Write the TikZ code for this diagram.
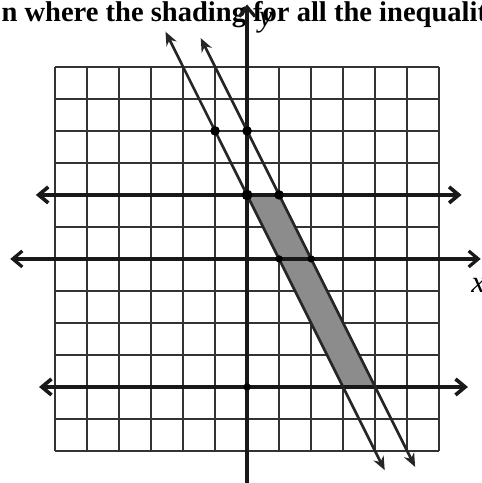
\documentclass[tikz,border=0pt]{standalone}
\usepackage{fontspec}
\setmainfont{Liberation Serif}
\usetikzlibrary{arrows.meta}
\tikzset{
  gridln/.style={line width=1.5pt, black!80},
  axisln/.style={{Straight Barb[length=2.4mm,width=4mm]}-{Straight Barb[length=2.4mm,width=4mm]}, line width=2.3pt, black!90},
  boundln/.style={{Straight Barb[length=2.4mm,width=4mm]}-{Straight Barb[length=2.4mm,width=4mm]}, line width=2.6pt, black!90},
  slantln/.style={{Stealth[length=3.4mm,width=2.8mm]}-{Stealth[length=3.4mm,width=2.8mm]}, line width=1.9pt, black!85},
  shadereg/.style={fill=black!45},
  qtext/.style={font=\fontsize{20.3}{24}\selectfont\bfseries, inner sep=0pt},
}
\newcommand{\ptdot}[2]{%
  \fill[black] #2 circle (#1);
}

\begin{document}
\begin{tikzpicture}[x=0.8cm, y=0.8cm]
  \useasboundingbox (-7.72,-7.0) rectangle (7.31,8.09);
  \clip (-7.72,-7.0) rectangle (7.31,8.09);
  % the question text, cut off at both sides
  \node[qtext, anchor=base west] (qline) at (-7.68,7.41) {n where the shading for all the inequalities};
  % grid
  \draw[gridln, step=0.8cm] (-6,-6) grid (6,6);
  % solution region
  \fill[shadereg] (0,2) -- (1,2) -- (4,-4) -- (3,-4) -- cycle;
  % axes
  \draw[axisln] (-7.4,0) -- (7.3,0);
  \draw[axisln] (0,-7.6) -- (0,7.95);
  \node[font=\fontsize{22}{24}\selectfont\itshape] (ylab) at (0.58,7.38) {y};
  \node[font=\fontsize{22}{24}\selectfont\itshape] (xlab) at (7.22,-0.82) {x};
  % y <= 2 and y >= -4
  \draw[boundln] (-6.6,2) -- (6.7,2);
  \draw[boundln] (-6.5,-4) -- (6.9,-4);
  % y >= -2x+2 and y <= -2x+4
  \coordinate (aTop) at (-2.55,7.1);
  \coordinate (aBot) at (4.3,-6.6);
  \coordinate (bTop) at (-1.45,6.9);
  \coordinate (bBot) at (5.25,-6.5);
  \draw[slantln] (aTop) -- (aBot);
  \draw[slantln] (bTop) -- (bBot);
  % plotted points
  \ptdot{3.4pt}{(-1,4)}
  \ptdot{3.4pt}{(0,4)}
  \ptdot{3.8pt}{(0,2)}
  \ptdot{3.4pt}{(1,2)}
  \ptdot{2.6pt}{(1,0)}
  \ptdot{2.6pt}{(2,0)}
  \ptdot{2.6pt}{(0,-4)}
\end{tikzpicture}
\end{document}
